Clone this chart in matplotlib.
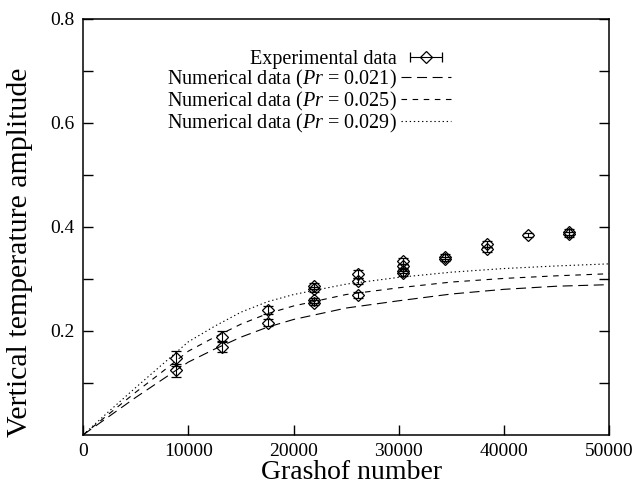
import numpy as np
import matplotlib
matplotlib.use('Agg')
import matplotlib.pyplot as plt
from matplotlib.container import ErrorbarContainer
from matplotlib.legend_handler import HandlerErrorbar

plt.rcParams['font.family'] = ['Liberation Serif', 'DejaVu Serif']
plt.rcParams['mathtext.fontset'] = 'custom'
plt.rcParams['mathtext.rm'] = 'Liberation Serif'
plt.rcParams['mathtext.it'] = 'Liberation Serif:italic'

# numerical curves
gr_num = [0, 2500, 5000, 7500, 10000, 12500, 15000, 17500, 20000, 25000, 30000, 35000, 40000, 45000, 50000]
amp_021 = [0, 0.036, 0.072, 0.106, 0.140, 0.165, 0.188, 0.207, 0.222, 0.244, 0.258, 0.271, 0.280, 0.286, 0.289]
amp_025 = [0, 0.041, 0.082, 0.121, 0.161, 0.188, 0.213, 0.233, 0.248, 0.270, 0.283, 0.294, 0.301, 0.306, 0.310]
amp_029 = [0, 0.046, 0.091, 0.135, 0.179, 0.209, 0.236, 0.256, 0.270, 0.290, 0.303, 0.313, 0.320, 0.325, 0.329]

# experimental data
gr_exp = [8800, 8800, 13200, 13200, 17600, 17600,
          21900, 21900, 21900, 21900, 26100, 26100, 26100,
          30400, 30400, 30400, 30400, 34400, 34400, 38400, 38400,
          42300, 46200, 46200]
amp_exp = [0.147, 0.124, 0.189, 0.170, 0.240, 0.216,
           0.286, 0.280, 0.259, 0.254, 0.309, 0.296, 0.269,
           0.334, 0.324, 0.316, 0.311, 0.343, 0.339, 0.367, 0.357,
           0.385, 0.391, 0.386]
err_exp = [0.015, 0.013, 0.010, 0.010, 0.008, 0.006,
           0.006, 0.005, 0.005, 0.005, 0.008, 0.006, 0.005,
           0.006, 0.005, 0.005, 0.005, 0.005, 0.004, 0.006, 0.005,
           0.004, 0.006, 0.005]

y_ticks = [0.1, 0.2, 0.3, 0.4, 0.5, 0.6, 0.7, 0.8]
y_labels = ['', '0.2', '', '0.4', '', '0.6', '', '0.8']
x_ticks = [0, 10000, 20000, 30000, 40000, 50000]


def main():
    fig = plt.figure(figsize=(6.34, 4.87), dpi=100)
    ax = fig.add_axes([0.131, 0.107, 0.830, 0.854])

    eb = ax.errorbar(gr_exp, amp_exp, yerr=err_exp, fmt='D', ms=6.5, mfc='none',
                     mec='black', mew=0.9, ecolor='black', elinewidth=0.8,
                     capsize=3.5, capthick=0.8)
    l1, = ax.plot(gr_num, amp_021, color='black', lw=0.8, dashes=(9, 5))
    l2, = ax.plot(gr_num, amp_025, color='black', lw=0.8, dashes=(5, 5))
    l3, = ax.plot(gr_num, amp_029, color='black', lw=0.8, dashes=(1.2, 2.5))

    leg_eb = ErrorbarContainer(eb.lines, has_xerr=True, has_yerr=False)
    ax.legend([leg_eb, l1, l2, l3],
              ['Experimental data',
               'Numerical data ($\\mathit{Pr}$ = 0.021)',
               'Numerical data ($\\mathit{Pr}$ = 0.025)',
               'Numerical data ($\\mathit{Pr}$ = 0.029)'],
              handler_map={ErrorbarContainer: HandlerErrorbar(xerr_size=0.8)},
              loc='upper right', bbox_to_anchor=(0.719, 0.95), frameon=False,
              markerfirst=False, numpoints=1, fontsize=14.5, handlelength=2.5,
              handletextpad=0.2, labelspacing=-0.05, borderpad=0)

    ax.set_xlim(0, 50000)
    ax.set_ylim(0, 0.8)
    ax.set_xticks(x_ticks)
    ax.set_yticks(y_ticks)
    ax.set_yticklabels(y_labels)
    ax.tick_params(axis='y', direction='in', length=7, width=1, right=True, labelsize=14, pad=6)
    ax.tick_params(axis='x', direction='in', length=7, width=1, top=False, labelsize=14, pad=6)
    for s in ax.spines.values():
        s.set_linewidth(1.1)

    ax.set_xlabel('Grashof number', fontsize=20)
    ax.set_ylabel('Vertical temperature amplitude', fontsize=21.5)
    ax.xaxis.set_label_coords(0.51, -0.06)
    ax.yaxis.set_label_coords(-0.095, 0.44)

    fig.savefig('out.png', dpi=100)


if __name__ == '__main__':
    main()
